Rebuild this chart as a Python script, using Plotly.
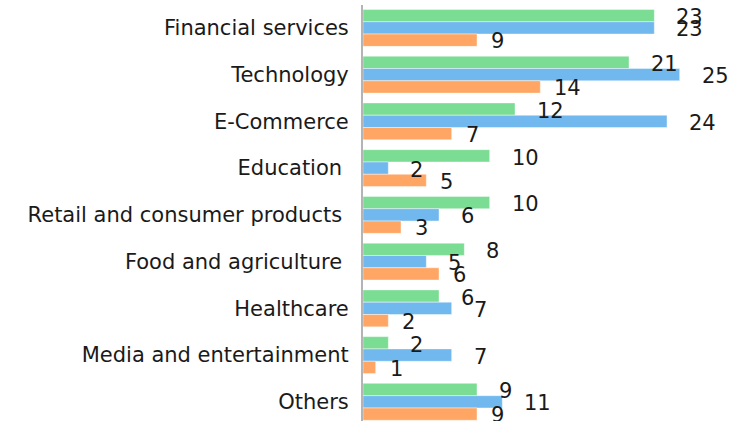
import plotly.graph_objects as go

categories = [
    "Financial services",
    "Technology",
    "E-Commerce",
    "Education\u00a0",
    "Retail and consumer products\u00a0",
    "Food and agriculture\u00a0",
    "Healthcare",
    "Media and entertainment",
    "Others",
]
green_values = [23, 21, 12, 10, 10, 8, 6, 2, 9]
blue_values = [23, 25, 24, 2, 6, 5, 7, 7, 11]
orange_values = [9, 14, 7, 5, 3, 6, 2, 1, 9]

series = [
    ("Series 1", green_values, "#7BDC94", 20, 12),
    ("Series 2", blue_values, "#70B8EE", 20, 0),
    ("Series 3", orange_values, "#FFA664", 12, -12),
]

FONT = "DejaVu Sans"
TEXT_COLOR = "#1a1a1a"

fig = go.Figure()
annotations = []
for name, vals, color, xs, ys in series:
    fig.add_trace(go.Bar(
        name=name, y=categories, x=vals, orientation="h",
        marker=dict(color=color, line=dict(width=0.6, color="rgba(255,255,255,0.7)")),
        hoverinfo="x+y",
    ))
    for c, v in zip(categories, vals):
        annotations.append(dict(
            x=v, y=c, xref="x", yref="y", text=str(v), showarrow=False,
            xanchor="left", yanchor="middle", xshift=xs, yshift=ys - 1.5,
            font=dict(family=FONT, size=21, color=TEXT_COLOR),
        ))

fig.update_layout(
    width=750, height=421,
    margin=dict(l=363, r=7, t=5, b=0),
    barmode="group", bargap=0.21, bargroupgap=0,
    plot_bgcolor="white", paper_bgcolor="white",
    showlegend=False,
    annotations=annotations,
    font=dict(family=FONT, size=21, color=TEXT_COLOR),
    xaxis=dict(range=[0, 30], visible=False, showgrid=False, zeroline=False),
    yaxis=dict(
        categoryorder="array", categoryarray=categories,
        range=[8.41, -0.49],
        showline=True, linecolor="#b4b4b4", linewidth=2,
        showgrid=False, zeroline=False, ticks="",
        ticklabelstandoff=8,
        tickfont=dict(family=FONT, size=21, color=TEXT_COLOR),
    ),
)

fig.write_html(
    "out.html",
    config={"displayModeBar": False},
    post_script="document.body.style.margin='0';",
)
